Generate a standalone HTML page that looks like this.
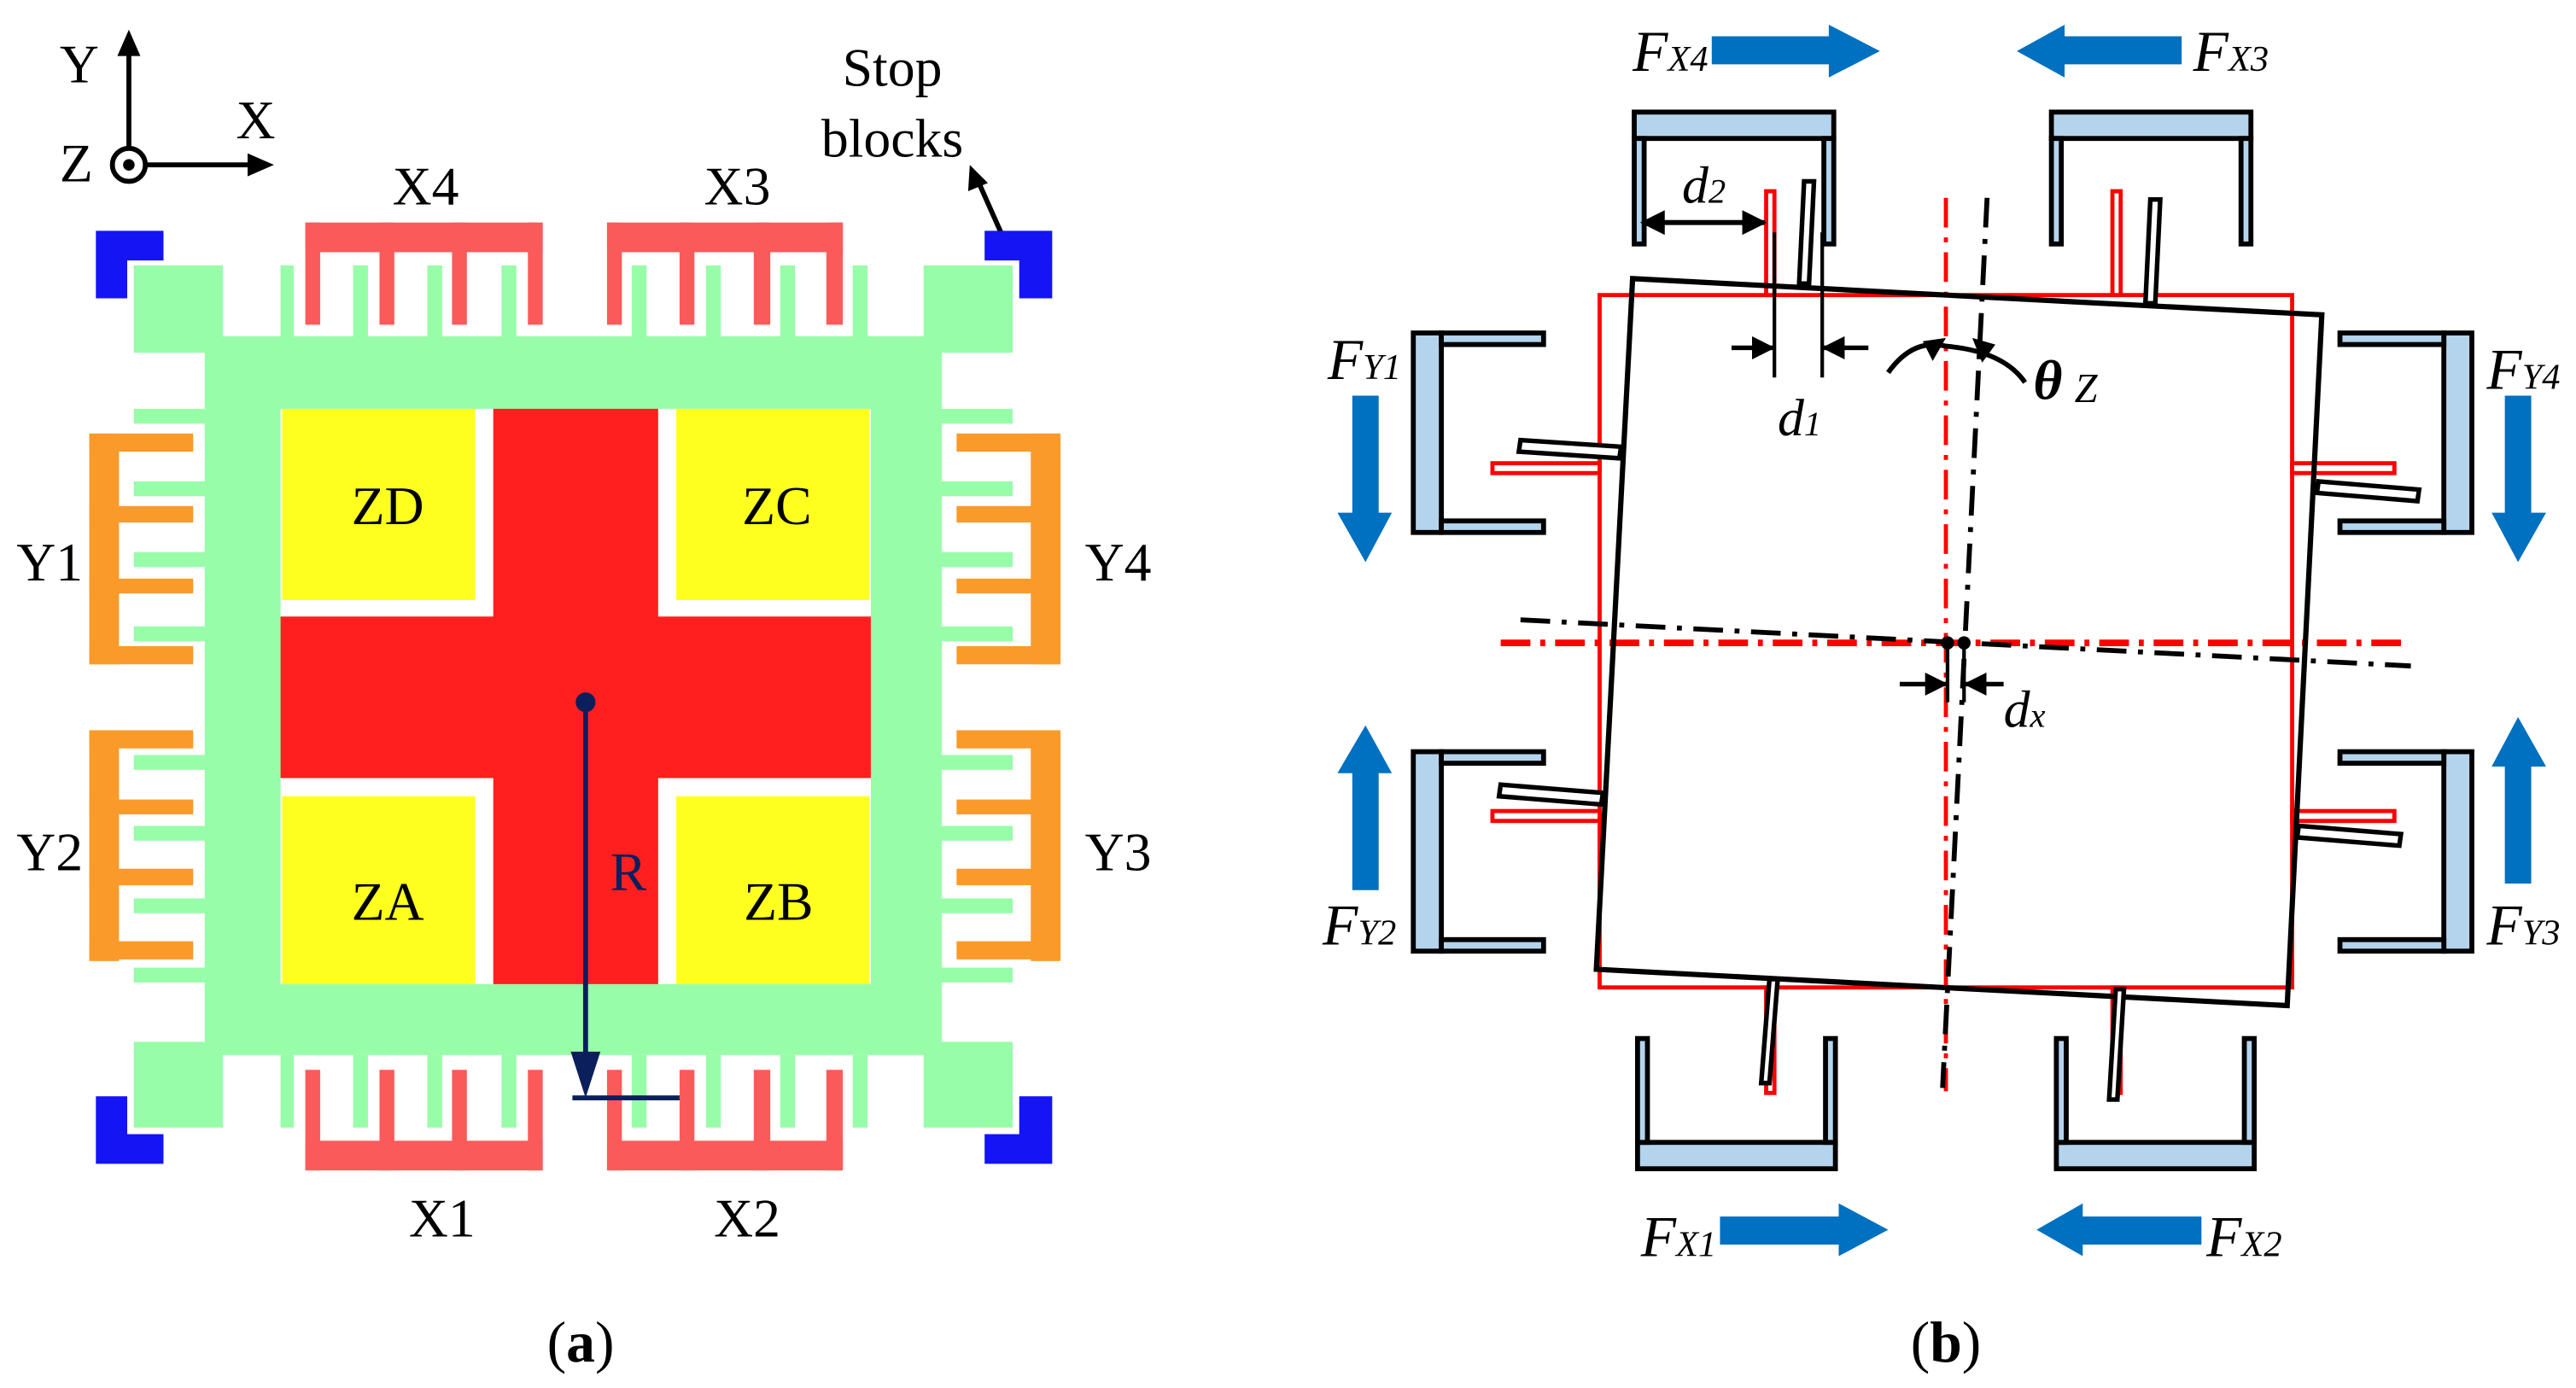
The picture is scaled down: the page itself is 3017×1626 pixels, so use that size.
<!DOCTYPE html>
<html><head><meta charset="utf-8"><style>
html,body{margin:0;padding:0;background:#fff;}
svg{display:block;}
text{font-family:"Liberation Serif",serif;}
</style></head><body>
<svg width="3017" height="1626" viewBox="0 0 1562 842" xmlns="http://www.w3.org/2000/svg">
<defs>
<marker id="ah" viewBox="0 0 10 10" refX="9" refY="5" markerWidth="5" markerHeight="5" orient="auto-start-reverse"><path d="M0,0L10,5L0,10z" fill="#000"/></marker>
</defs>
<!-- ===== Panel (a) ===== -->
<line x1="78" y1="100" x2="78" y2="30" stroke="#000" stroke-width="3"/>
<path d="M71,34L78,18L85,34z" fill="#000"/>
<line x1="88" y1="100" x2="152" y2="100" stroke="#000" stroke-width="3"/>
<path d="M150,93L166,100L150,107z" fill="#000"/>
<circle cx="78" cy="100" r="10" fill="#fff" stroke="#000" stroke-width="3"/>
<circle cx="78" cy="100" r="3.5" fill="#000"/>
<text x="36" y="50" font-size="33">Y</text>
<text x="143" y="84" font-size="33">X</text>
<text x="36" y="110" font-size="33">Z</text>
<text x="541" y="52" font-size="33" text-anchor="middle">Stop</text>
<text x="541" y="95" font-size="33" text-anchor="middle">blocks</text>
<line x1="610" y1="148" x2="594" y2="112" stroke="#000" stroke-width="3"/>
<path d="M587,116L588,100L599,111z" fill="#000"/>

<g fill="#98fda8">
<path d="M124,204H571V640H124Z M170,248V597H528V248Z" fill-rule="evenodd"/>
<rect x="81" y="161" width="54" height="53"/>
<rect x="560" y="161" width="54" height="53"/>
<rect x="81" y="632" width="54" height="52"/>
<rect x="560" y="632" width="54" height="52"/>
<rect x="170" y="161" width="8" height="44"/><rect x="214" y="161" width="9" height="44"/>
<rect x="259" y="161" width="9" height="44"/><rect x="304" y="161" width="9" height="44"/>
<rect x="383" y="161" width="9" height="44"/><rect x="428" y="161" width="9" height="44"/>
<rect x="473" y="161" width="9" height="44"/><rect x="517" y="161" width="9" height="44"/>
<rect x="170" y="640" width="8" height="44"/><rect x="214" y="640" width="9" height="44"/>
<rect x="259" y="640" width="9" height="44"/><rect x="304" y="640" width="9" height="44"/>
<rect x="383" y="640" width="9" height="44"/><rect x="428" y="640" width="9" height="44"/>
<rect x="473" y="640" width="9" height="44"/><rect x="517" y="640" width="9" height="44"/>
<rect x="81" y="248" width="44" height="9"/><rect x="81" y="292" width="44" height="9"/>
<rect x="81" y="335" width="44" height="9"/><rect x="81" y="380" width="44" height="9"/>
<rect x="81" y="458" width="44" height="9"/><rect x="81" y="501" width="44" height="9"/>
<rect x="81" y="545" width="44" height="9"/><rect x="81" y="587" width="44" height="9"/>
<rect x="571" y="248" width="43" height="9"/><rect x="571" y="292" width="43" height="9"/>
<rect x="571" y="335" width="43" height="9"/><rect x="571" y="380" width="43" height="9"/>
<rect x="571" y="458" width="43" height="9"/><rect x="571" y="501" width="43" height="9"/>
<rect x="571" y="545" width="43" height="9"/><rect x="571" y="587" width="43" height="9"/>
</g>
<g fill="#fb5a5a">
<rect x="185" y="135" width="144" height="18"/>
<rect x="185" y="135" width="9" height="62"/><rect x="230" y="135" width="9" height="62"/><rect x="274" y="135" width="9" height="62"/><rect x="320" y="135" width="9" height="62"/>
<rect x="368" y="135" width="143" height="18"/>
<rect x="368" y="135" width="9" height="62"/><rect x="412" y="135" width="9" height="62"/><rect x="457" y="135" width="10" height="62"/><rect x="501" y="135" width="10" height="62"/>
<rect x="185" y="692" width="144" height="18"/>
<rect x="185" y="649" width="9" height="61"/><rect x="230" y="649" width="9" height="61"/><rect x="274" y="649" width="9" height="61"/><rect x="320" y="649" width="9" height="61"/>
<rect x="368" y="692" width="143" height="18"/>
<rect x="368" y="649" width="9" height="61"/><rect x="412" y="649" width="9" height="61"/><rect x="457" y="649" width="10" height="61"/><rect x="501" y="649" width="10" height="61"/>
</g>
<g fill="#f99a2a">
<rect x="54" y="263" width="18" height="140"/>
<rect x="54" y="263" width="63" height="11"/><rect x="54" y="307" width="63" height="10"/><rect x="54" y="351" width="63" height="9"/><rect x="54" y="392" width="63" height="11"/>
<rect x="54" y="443" width="18" height="140"/>
<rect x="54" y="443" width="63" height="11"/><rect x="54" y="485" width="63" height="9"/><rect x="54" y="527" width="63" height="10"/><rect x="54" y="571" width="63" height="11"/>
<rect x="625" y="263" width="18" height="140"/>
<rect x="580" y="263" width="63" height="11"/><rect x="580" y="307" width="63" height="10"/><rect x="580" y="351" width="63" height="9"/><rect x="580" y="392" width="63" height="11"/>
<rect x="625" y="443" width="18" height="140"/>
<rect x="580" y="443" width="63" height="11"/><rect x="580" y="485" width="63" height="9"/><rect x="580" y="527" width="63" height="10"/><rect x="580" y="571" width="63" height="11"/>
</g>
<g fill="#1414f5">
<path d="M58,140H99V158H77V181H58Z"/>
<path d="M638,140H597V158H618V181H638Z"/>
<path d="M58,706H99V688H77V665H58Z"/>
<path d="M638,706H597V688H618V665H638Z"/>
</g>
<g fill="#ffff1f">
<rect x="171" y="248" width="117" height="116"/>
<rect x="410" y="248" width="117" height="116"/>
<rect x="171" y="483" width="117" height="114"/>
<rect x="410" y="483" width="117" height="114"/>
</g>
<path d="M299,248H399V374H528V472H399V597H299V472H170V374H299Z" fill="#ff1f1f"/>
<text x="235" y="318" font-size="33" text-anchor="middle">ZD</text>
<text x="471" y="318" font-size="33" text-anchor="middle">ZC</text>
<text x="235" y="558" font-size="33" text-anchor="middle">ZA</text>
<text x="472" y="558" font-size="33" text-anchor="middle">ZB</text>
<circle cx="355" cy="426" r="6" fill="#0a1f5c"/>
<line x1="355" y1="426" x2="355" y2="650" stroke="#0a1f5c" stroke-width="3"/>
<path d="M346,638L355,666L364,638z" fill="#0a1f5c"/>
<line x1="347" y1="666" x2="412" y2="666" stroke="#0a1f5c" stroke-width="3"/>
<text x="381" y="540" font-size="33" text-anchor="middle" fill="#0a1f5c">R</text>
<text x="258" y="124" font-size="33" text-anchor="middle">X4</text>
<text x="447" y="124" font-size="33" text-anchor="middle">X3</text>
<text x="30" y="352" font-size="33" text-anchor="middle">Y1</text>
<text x="678" y="352" font-size="33" text-anchor="middle">Y4</text>
<text x="30" y="528" font-size="33" text-anchor="middle">Y2</text>
<text x="678" y="528" font-size="33" text-anchor="middle">Y3</text>
<text x="268" y="750" font-size="33" text-anchor="middle">X1</text>
<text x="453" y="750" font-size="33" text-anchor="middle">X2</text>
<text x="352" y="826" font-size="35" text-anchor="middle">(<tspan font-weight="bold">a</tspan>)</text>

<!-- ===== Panel (b) ===== -->
<g fill="#0070c0">
<path d="M1038,22H1109V15L1140,31L1109,47V39H1038Z"/>
<path d="M1323,22H1252V15L1223,31L1252,47V39H1323Z"/>
<path d="M1043,738H1115V730L1145,746L1115,762V755H1043Z"/>
<path d="M1335,738H1263V730L1235,746L1263,762V755H1335Z"/>
<path d="M820,240H836V311H844L828,341L811,311H820Z"/>
<path d="M1519,240H1535V311H1544L1527,341L1511,311H1519Z"/>
<path d="M820,540H836V469H844L828,440L811,469H820Z"/>
<path d="M1519,536H1535V465H1544L1527,435L1511,465H1519Z"/>
</g>
<g font-style="italic">
<text x="990" y="43" font-size="35">F<tspan font-size="22">X4</tspan></text>
<text x="1330" y="43" font-size="35">F<tspan font-size="22">X3</tspan></text>
<text x="995" y="762" font-size="35">F<tspan font-size="22">X1</tspan></text>
<text x="1338" y="762" font-size="35">F<tspan font-size="22">X2</tspan></text>
<text x="805" y="230" font-size="35">F<tspan font-size="22">Y1</tspan></text>
<text x="1508" y="236" font-size="35">F<tspan font-size="22">Y4</tspan></text>
<text x="802" y="573" font-size="35">F<tspan font-size="22">Y2</tspan></text>
<text x="1508" y="573" font-size="35">F<tspan font-size="22">Y3</tspan></text>
</g>
<g fill="#b4d4ee" stroke="#000" stroke-width="3">
<rect x="991" y="68" width="121" height="16"/>
<rect x="991" y="84" width="6" height="64"/><rect x="1106" y="84" width="6" height="64"/>
<rect x="1244" y="68" width="121" height="16"/>
<rect x="1244" y="84" width="6" height="64"/><rect x="1359" y="84" width="6" height="64"/>
<rect x="993" y="693" width="120" height="16"/>
<rect x="993" y="630" width="6" height="63"/><rect x="1107" y="630" width="6" height="63"/>
<rect x="1247" y="693" width="120" height="16"/>
<rect x="1247" y="630" width="6" height="63"/><rect x="1361" y="630" width="6" height="63"/>
<rect x="857" y="202" width="17" height="121"/>
<rect x="874" y="202" width="62" height="7"/><rect x="874" y="316" width="62" height="7"/>
<rect x="857" y="456" width="17" height="121"/>
<rect x="874" y="456" width="62" height="7"/><rect x="874" y="570" width="62" height="7"/>
<rect x="1482" y="202" width="17" height="121"/>
<rect x="1419" y="202" width="63" height="7"/><rect x="1419" y="316" width="63" height="7"/>
<rect x="1482" y="456" width="17" height="121"/>
<rect x="1419" y="456" width="63" height="7"/><rect x="1419" y="570" width="63" height="7"/>
</g>
<g fill="#fff" stroke="#ff0000" stroke-width="2.5">
<rect x="970" y="179" width="420" height="420" fill="none"/>
<rect x="1071" y="116" width="5" height="63"/>
<rect x="1281" y="116" width="5" height="63"/>
<rect x="1071" y="599" width="5" height="64"/>
<rect x="1281" y="599" width="5" height="64"/>
<rect x="905" y="281" width="65" height="6"/>
<rect x="1390" y="281" width="62" height="6"/>
<rect x="905" y="492" width="65" height="6"/>
<rect x="1390" y="492" width="62" height="6"/>
</g>
<g stroke="#ff0000" stroke-width="2.5" stroke-dasharray="18,6,3,6" fill="none">
<line x1="1180" y1="120" x2="1180" y2="662"/>
<line x1="910" y1="390" x2="1460" y2="390" stroke-width="4"/>
</g>
<polygon points="990,169 1408,191 1387,610 968,588" fill="none" stroke="#000" stroke-width="3.2"/>
<g fill="#fff" stroke="#000" stroke-width="2.8">
<polygon points="1094,110 1100,110 1097,172 1091,172"/>
<polygon points="1304,121 1310,121 1307,184 1301,184"/>
<polygon points="1073,594 1078,594 1073,657 1068,657"/>
<polygon points="1283,600 1288,600 1284,667 1279,667"/>
<polygon points="922,267 983,271 982,278 921,274"/>
<polygon points="1406,292 1467,297 1466,304 1405,299"/>
<polygon points="910,476 972,481 971,488 909,483"/>
<polygon points="1394,501 1456,506 1455,513 1393,508"/>
</g>
<g stroke="#000" stroke-width="3" stroke-dasharray="18,7,3,7" fill="none">
<line x1="1205" y1="120" x2="1178" y2="660"/>
<line x1="922" y1="376" x2="1462" y2="404"/>
</g>
<circle cx="1181" cy="390" r="4" fill="#000"/>
<circle cx="1191" cy="390" r="4" fill="#000"/>
<line x1="996" y1="135" x2="1070" y2="135" stroke="#000" stroke-width="3" marker-start="url(#ah)" marker-end="url(#ah)"/>
<text x="1020" y="123" font-size="32" font-style="italic">d<tspan font-size="21">2</tspan></text>
<line x1="1076" y1="141" x2="1076" y2="229" stroke="#000" stroke-width="2.2"/>
<line x1="1105" y1="141" x2="1105" y2="229" stroke="#000" stroke-width="2.2"/>
<line x1="1050" y1="211" x2="1075" y2="211" stroke="#000" stroke-width="2.8" marker-end="url(#ah)"/>
<line x1="1133" y1="211" x2="1106" y2="211" stroke="#000" stroke-width="2.8" marker-end="url(#ah)"/>
<text x="1078" y="264" font-size="32" font-style="italic">d<tspan font-size="21">1</tspan></text>
<path d="M1145,226 Q1160,205 1180,210 Q1215,213 1228,232" fill="none" stroke="#000" stroke-width="3"/>
<path d="M1166,207L1180,205L1172,219z" fill="#000"/>
<path d="M1196,205L1210,209L1202,220z" fill="#000"/>
<text x="1233" y="242" font-size="34" font-style="italic" font-weight="bold">θ</text>
<text x="1258" y="244" font-size="25" font-style="italic">Z</text>
<line x1="1181" y1="392" x2="1181" y2="426" stroke="#000" stroke-width="2.2"/>
<line x1="1191" y1="392" x2="1191" y2="426" stroke="#000" stroke-width="2.2"/>
<line x1="1152" y1="415" x2="1180" y2="415" stroke="#000" stroke-width="2.8" marker-end="url(#ah)"/>
<line x1="1215" y1="415" x2="1192" y2="415" stroke="#000" stroke-width="2.8" marker-end="url(#ah)"/>
<text x="1215" y="441" font-size="32" font-style="italic">d<tspan font-size="21">x</tspan></text>
<text x="1180" y="826" font-size="35" text-anchor="middle">(<tspan font-weight="bold">b</tspan>)</text>
</svg>
</body></html>
